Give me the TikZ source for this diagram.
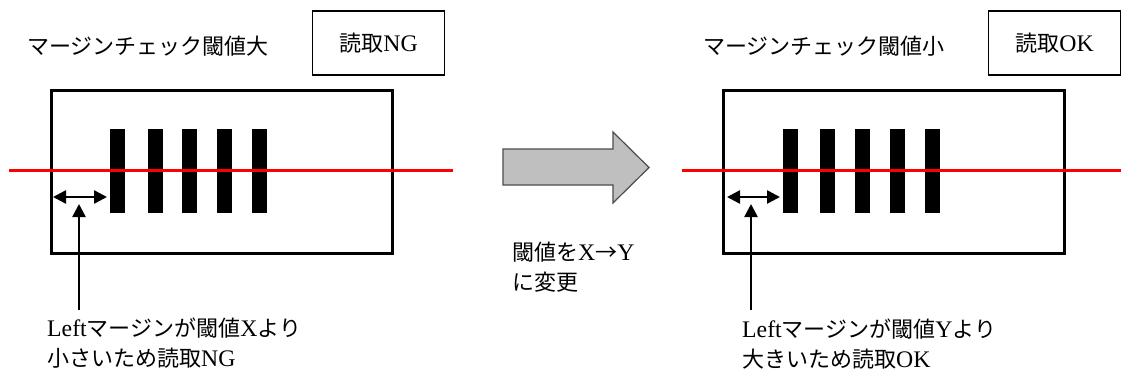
\documentclass[tikz,border=0pt]{standalone}
\usepackage{fontspec}
\setmainfont{Liberation Serif}[Scale=1.08]
\newfontfamily\jp{Noto Sans CJK JP}
\usepackage{tikz}
\usetikzlibrary{arrows.meta, positioning}

\begin{document}
\begin{tikzpicture}[x=1pt, y=-1pt, every node/.style={font=\fontsize{22}{30}\selectfont, inner sep=0pt},
  >={Triangle[length=13pt, width=13pt]}]
  \useasboundingbox (0,0) rectangle (1121,378);
  \tikzset{
    resbox/.style={draw, line width=1.2pt, minimum width=132pt, minimum height=64pt},
    card/.style={draw, line width=3pt, minimum width=341pt, minimum height=163pt},
    scanline/.style={red, line width=3pt},
    bar/.style={fill=black},
    note/.style={anchor=north west, align=left}
  }

  % Threshold large (left)
  \node (ttl1) [anchor=west] at (27,46) {{\jp マージンチェック閾値大}};
  \node (res1) [resbox] at (378.5,43) {{\jp 読取}NG};
  \node (card1) [card] at (221.5,171.5) {};
  \foreach \x in {110,148,182,217,252}
    \fill[bar] (\x,129) rectangle ++(15,84);
  \coordinate (s1a) at (9,170);
  \coordinate (s1b) at (453,170);
  \draw[scanline] (s1a) -- (s1b);
  \coordinate (m1a) at (53,197);
  \coordinate (m1b) at (107,197);
  \draw[<->, line width=2.5pt] (m1a) -- (m1b);
  \coordinate (p1) at (79,310);
  \coordinate (q1) at (79,204);
  \draw[->, line width=2.5pt] (p1) -- (q1);
  \node (cap1) [note] at (47,318) {Left{\jp マージンが閾値}X{\jp より}\\{\jp 小さいため読取}NG};

  % Change of threshold (middle)
  \fill[black!25, draw=black!70, line width=1.2pt]
    (503,149) -- (613,149) -- (613,132) -- (649,167.5) -- (613,203) -- (613,185) -- (503,185) -- cycle;
  \node (chg) [note] at (512,242) {{\jp 閾値を}X{\jp →}Y\\{\jp に変更}};

  % Threshold small (right)
  \node (ttl2) [anchor=west] at (703,46) {{\jp マージンチェック閾値小}};
  \node (res2) [resbox] at (1054.5,43) {{\jp 読取}OK};
  \node (card2) [card] at (893.5,171.5) {};
  \foreach \x in {783,820,855,890,925}
    \fill[bar] (\x,129) rectangle ++(15,84);
  \coordinate (s2a) at (682,170);
  \coordinate (s2b) at (1121,170);
  \draw[scanline] (s2a) -- (s2b);
  \coordinate (m2a) at (727,197);
  \coordinate (m2b) at (780,197);
  \draw[<->, line width=2.5pt] (m2a) -- (m2b);
  \coordinate (p2) at (751,310);
  \coordinate (q2) at (751,204);
  \draw[->, line width=2.5pt] (p2) -- (q2);
  \node (cap2) [note] at (742,319) {Left{\jp マージンが閾値}Y{\jp より}\\{\jp 大きいため読取}OK};
\end{tikzpicture}
\end{document}
